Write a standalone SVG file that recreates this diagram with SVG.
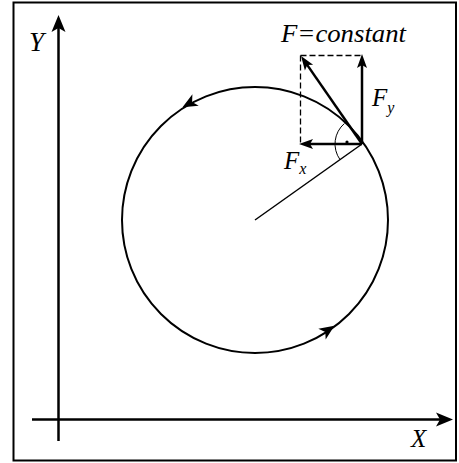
<svg xmlns="http://www.w3.org/2000/svg" width="459" height="463" viewBox="0 0 459 463">
<style>
.ln{fill:none;stroke:#000;stroke-linecap:butt}
.ax{stroke-width:2.5}
.f{stroke-width:2.5}
.t{font-family:"Liberation Serif","Times New Roman",serif;font-style:italic;fill:#000}
</style>
<defs>
<marker id="big" markerUnits="userSpaceOnUse" viewBox="-8 -9 20 18" markerWidth="20" markerHeight="18" refX="0" refY="0" orient="auto">
<path d="M10,0 L-7,-7 L-3,0 L-7,7 Z" fill="#000"/>
</marker>
<marker id="sm" markerUnits="userSpaceOnUse" viewBox="-7 -7 16 14" markerWidth="16" markerHeight="14" refX="0" refY="0" orient="auto">
<path d="M8,0 L-6,-5 L-3,0 L-6,5 Z" fill="#000"/>
</marker>
<path id="dirhead" d="M7,0 L-8,-6.5 L-4,0 L-8,6.5 Z" fill="#000"/>
</defs>
<rect x="13.5" y="2.5" width="442.5" height="458" fill="#fff" stroke="#000" stroke-width="2"/>
<g id="connectors">
<line class="ln ax" x1="58.5" y1="441" x2="58.5" y2="25" marker-end="url(#big)"/>
<line class="ln ax" x1="32" y1="419.5" x2="443" y2="419.5" marker-end="url(#big)"/>
<circle class="ln" cx="255" cy="220" r="133" stroke-width="2"/>
<use href="#dirhead" transform="translate(188.6,103.9) rotate(150.8)"/>
<use href="#dirhead" transform="translate(328.6,329.7) rotate(-34.4)"/>
<line class="ln" x1="255" y1="220" x2="362" y2="144" stroke-width="1.5"/>
<path class="ln" d="M300.5,55.5 H362 M300.5,55.5 V144" stroke-width="1.3" stroke-dasharray="6,3"/>
<line class="ln f" x1="362" y1="144" x2="307" y2="144" marker-end="url(#sm)"/>
<line class="ln f" x1="362" y1="144" x2="362" y2="62" marker-end="url(#sm)"/>
<line class="ln f" x1="362" y1="144" x2="305.6" y2="62.6" marker-end="url(#sm)"/>
<path class="ln" d="M344.4,123.5 A27,27 0 0 0 340,159.6" stroke-width="1"/>
<circle cx="347" cy="142" r="1.6" fill="#000"/>
</g>
<g id="labels">
<text class="t" x="29" y="50.5" font-size="27">Y</text>
<text class="t" x="411" y="446.5" font-size="25">X</text>
<text class="t" x="281" y="41.5" font-size="25" textLength="125" lengthAdjust="spacingAndGlyphs">F=constant</text>
<text class="t" x="372" y="105.5" font-size="25">F<tspan font-size="16" dy="7">y</tspan></text>
<text class="t" x="284" y="169" font-size="25">F<tspan font-size="16" dy="5">x</tspan></text>
</g>
</svg>
